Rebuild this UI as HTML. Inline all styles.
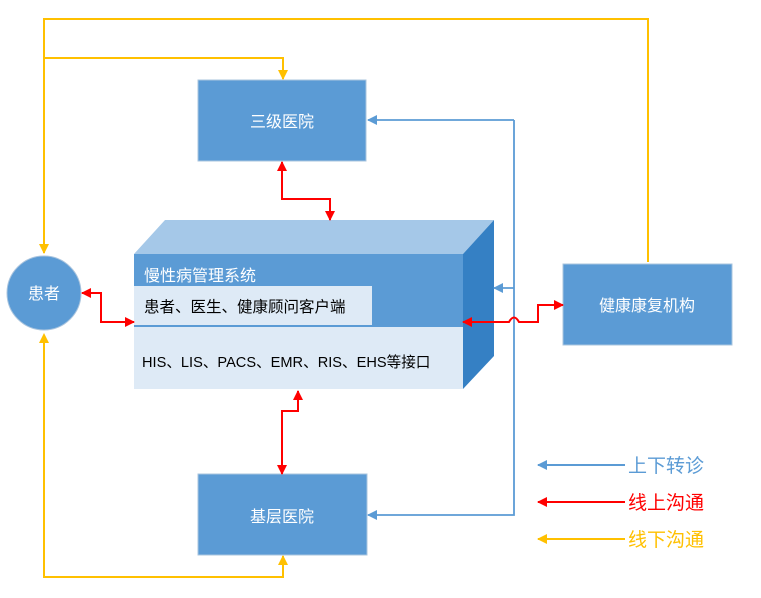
<!DOCTYPE html>
<html><head><meta charset="utf-8"><style>
html,body{margin:0;padding:0;background:#fff;}
svg{display:block;font-family:"Liberation Sans","Noto Sans CJK SC",sans-serif;}
</style></head><body>
<svg width="761" height="598" viewBox="0 0 761 598" xmlns="http://www.w3.org/2000/svg">
<defs>
<marker id="ay" markerWidth="10" markerHeight="10" refX="9" refY="5" orient="auto" markerUnits="userSpaceOnUse"><path d="M0,0 L10,5 L0,10 Z" fill="#FFC000"/></marker>
<marker id="ab" markerWidth="10" markerHeight="10" refX="9" refY="5" orient="auto" markerUnits="userSpaceOnUse"><path d="M0,0 L10,5 L0,10 Z" fill="#5B9BD5"/></marker>
<marker id="ar" markerWidth="10" markerHeight="10" refX="9" refY="5" orient="auto" markerUnits="userSpaceOnUse"><path d="M0,0 L10,5 L0,10 Z" fill="#FF0000"/></marker>
<marker id="arS" markerWidth="10" markerHeight="10" refX="1" refY="5" orient="auto" markerUnits="userSpaceOnUse"><path d="M10,0 L0,5 L10,10 Z" fill="#FF0000"/></marker>
</defs>
<!-- 3D box -->
<polygon points="134,254 165,220 494,220 463,254" fill="#A5C8E8"/>
<polygon points="463,254 494,220 494,356 463,389" fill="#3580C4"/>
<rect x="134" y="254" width="329" height="72" fill="#5B9BD5"/>
<rect x="134" y="326" width="329" height="63" fill="#DEEAF6"/>
<line x1="134" y1="326" x2="463" y2="326" stroke="#5B9BD5" stroke-width="2"/>
<rect x="134" y="286" width="238" height="39" fill="#DEEAF6"/>
<text x="144" y="281" font-size="16" fill="#fff">慢性病管理系统</text>
<text x="144" y="312" font-size="15.5" fill="#000">患者、医生、健康顾问客户端</text>
<text x="142" y="367" font-size="14.6" fill="#000">HIS、LIS、PACS、EMR、RIS、EHS等接口</text>
<!-- boxes -->
<rect x="198" y="80" width="168" height="81" fill="#5B9BD5" stroke="#A9C4DE"/>
<text x="282" y="127" font-size="16" fill="#fff" text-anchor="middle">三级医院</text>
<rect x="198" y="474" width="169" height="81" fill="#5B9BD5" stroke="#A9C4DE"/>
<text x="282" y="522" font-size="16" fill="#fff" text-anchor="middle">基层医院</text>
<rect x="563" y="264" width="169" height="81" fill="#5B9BD5" stroke="#A9C4DE"/>
<text x="647" y="311" font-size="16" fill="#fff" text-anchor="middle">健康康复机构</text>
<circle cx="44" cy="293" r="37" fill="#5B9BD5" stroke="#A9C4DE"/>
<text x="44" y="299" font-size="16" fill="#fff" text-anchor="middle">患者</text>
<g fill="none" stroke-width="2">
<!-- yellow -->
<polyline points="648,262 648,19 44,19 44,253" stroke="#FFC000" marker-end="url(#ay)"/>
<polyline points="44,58 283,58 283,79" stroke="#FFC000" marker-end="url(#ay)"/>
<polyline points="44,340 44,577 283,577 283,556" stroke="#FFC000" marker-end="url(#ay)"/>
<!-- blue -->
<polyline points="514,120 368,120" stroke="#5B9BD5" stroke-width="1.8" marker-end="url(#ab)"/>
<polyline points="514,120 514,515 368,515" stroke="#5B9BD5" stroke-width="1.8" marker-end="url(#ab)"/>
<polyline points="514,288 494,288" stroke="#5B9BD5" stroke-width="1.8" marker-end="url(#ab)"/>
<!-- red -->
<polyline points="282,162 282,199 330,199 330,220" stroke="#FF0000" marker-start="url(#arS)" marker-end="url(#ar)"/>
<polyline points="298,391 298,411 282,411 282,474" stroke="#FF0000" marker-start="url(#arS)" marker-end="url(#ar)"/>
<polyline points="82,293 101,293 101,322 134,322" stroke="#FF0000" marker-start="url(#arS)" marker-end="url(#ar)"/>
<path d="M463,322 L509,322 Q514,313 519,322 L538,322 L538,305 L563,305" stroke="#FF0000" marker-start="url(#arS)" marker-end="url(#ar)"/>
<!-- legend -->
<line x1="625" y1="465" x2="538" y2="465" stroke="#5B9BD5" marker-end="url(#ab)"/>
<line x1="625" y1="502" x2="538" y2="502" stroke="#FF0000" marker-end="url(#ar)"/>
<line x1="625" y1="539" x2="538" y2="539" stroke="#FFC000" marker-end="url(#ay)"/>
</g>
<path d="M39,343 L44,333 L49,343 Z" fill="#FFC000"/>
<!-- legend text -->
<text x="628" y="472" font-size="19" fill="#5B9BD5">上下转诊</text>
<text x="628" y="509" font-size="19" fill="#FF0000">线上沟通</text>
<text x="628" y="546" font-size="19" fill="#FFC000">线下沟通</text>
</svg>
</body></html>
